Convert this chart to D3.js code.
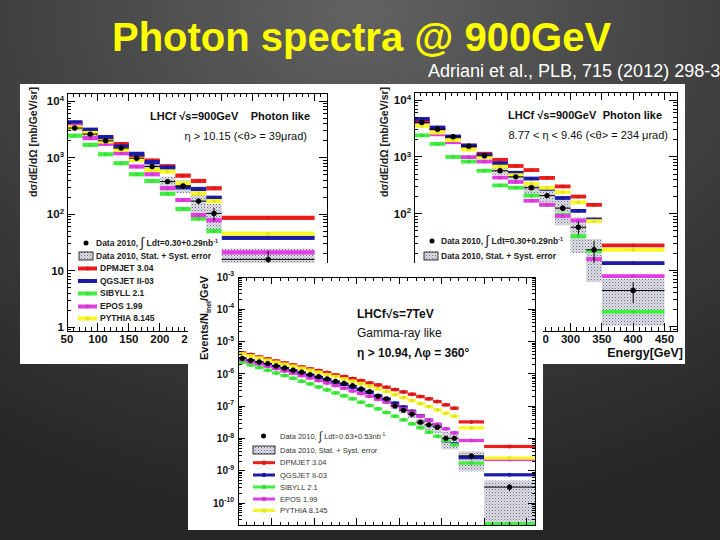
<!DOCTYPE html>
<html><head><meta charset="utf-8">
<script src="https://cdn.jsdelivr.net/npm/d3@7"></script>
<style>body{margin:0;background:#333;}svg{display:block}</style>
</head><body>
<svg id="c" width="720" height="540"></svg>
<script>
// ---------------- DATA ----------------
const modelNames = ["DPMJET 3.04","QGSJET II-03","SIBYLL 2.1","EPOS 1.99","PYTHIA 8.145"];
const modelColors = ["#ea1c1c","#1c1ca8","#3ff03f","#e23ce2","#f8f825"];

// Panel 1 : 900 GeV, eta > 10.15
const p1Edges = [50,75,100,125,150,175,200,225,250,275,300,450];
const p1Data   = [3350,2620,1990,1480,980,697,377,315,170,103,15.8];
const p1SysUp  = [0.10,0.10,0.10,0.12,0.15,0.18,0.22,0.25,0.37,0.48,0.55];
const p1SysDn  = [0.10,0.10,0.10,0.12,0.15,0.18,0.24,0.25,0.40,0.47,0.60];
const p1Stat   = [0.02,0.02,0.03,0.03,0.04,0.05,0.07,0.09,0.12,0.25,0.40];
const p1DPMJET = [3840,2930,2160,1740,1120,891,705,481,387,287,86];
const p1QGSJET = [4230,3130,2320,1580,1170,832,668,300,279,195,38];
const p1SIBYLL = [2450,1690,1150,798,508,387,230,123,83,50,8];
const p1EPOS   = [3690,2220,1760,1200,697,508,287,178,96,78,21];
const p1PYTHIA = [3440,2730,1940,1380,914,607,567,352,233,170,45];

// Panel 2 : 900 GeV, 8.77 < eta < 9.46
const p2Edges = [50,75,100,125,150,175,200,225,250,275,300,325,350,450];
const p2Data   = [4070,3090,2280,1550,1050,571,446,286,208,125,57.5,23,4.4];
const p2SysUp  = [0.10,0.10,0.10,0.10,0.12,0.15,0.20,0.25,0.30,0.40,0.50,0.55,0.60];
const p2SysDn  = [0.10,0.10,0.10,0.10,0.12,0.15,0.20,0.30,0.35,0.50,0.65,0.73,0.76];
const p2Stat   = [0.02,0.02,0.02,0.03,0.03,0.04,0.05,0.06,0.08,0.12,0.25,0.42,0.40];
const p2DPMJET = [4370,3180,2280,1590,1140,890,693,587,427,302,200,143,27.5];
const p2QGSJET = [4680,3310,2280,1590,1090,775,526,416,274,189,112,79,13.4];
const p2SIBYLL = [2410,1700,1000,830,571,315,286,208,143,95,40,22,1.86];
const p2EPOS   = [3650,2510,1820,993,830,433,362,169,143,91,76,15.8,7.9];
const p2PYTHIA = [3550,2690,1980,1350,993,675,477,338,286,239,158,74,23];

// Panel 3 : 7 TeV, eta > 10.94
const p3Edges = [100,200,300,400,500,600,700,800,900,1000,1100,1200,1300,1400,1500,1600,1700,1800,1900,2000,2100,2200,2300,2400,2500,2600,2700,3000,3600];
const p3Data   = [3.05e-6,2.65e-6,2.35e-6,2.09e-6,1.77e-6,1.53e-6,1.30e-6,1.13e-6,9.53e-7,8.27e-7,7.0e-7,5.93e-7,5.14e-7,4.35e-7,3.43e-7,2.84e-7,2.04e-7,1.69e-7,1.02e-7,7.52e-8,5.66e-8,3.20e-8,2.65e-8,2.24e-8,1.02e-8,1.02e-8,2.91e-9,3.13e-10];
const p3SysUp  = [0.08,0.08,0.08,0.08,0.08,0.08,0.09,0.09,0.09,0.10,0.10,0.10,0.11,0.11,0.12,0.13,0.15,0.18,0.20,0.22,0.25,0.30,0.32,0.35,0.60,0.60,0.37,0.60];
const p3SysDn  = [0.08,0.08,0.08,0.08,0.08,0.08,0.09,0.09,0.09,0.10,0.10,0.10,0.11,0.11,0.12,0.13,0.15,0.18,0.20,0.22,0.25,0.30,0.32,0.35,0.55,0.55,0.67,0.95];
const p3Stat   = [0.01,0.01,0.01,0.01,0.01,0.01,0.01,0.01,0.01,0.01,0.02,0.02,0.02,0.02,0.02,0.03,0.03,0.03,0.04,0.05,0.05,0.06,0.07,0.08,0.10,0.10,0.12,0.25];
const p3DPMJET = [4.46e-6,3.96e-6,3.36e-6,2.91e-6,2.52e-6,2.19e-6,1.90e-6,1.64e-6,1.43e-6,1.27e-6,1.10e-6,9.31e-7,8.28e-7,7.18e-7,6.22e-7,5.27e-7,4.57e-7,3.87e-7,3.27e-7,2.77e-7,2.35e-7,1.99e-7,1.69e-7,1.39e-7,1.10e-7,8.67e-8,3.27e-8,5.66e-9];
const p3QGSJET = [2.91e-6,2.52e-6,2.24e-6,1.95e-6,1.69e-6,1.46e-6,1.24e-6,1.05e-6,9.10e-7,7.71e-7,6.52e-7,5.52e-7,4.68e-7,3.87e-7,3.20e-7,2.65e-7,2.10e-7,1.65e-7,1.25e-7,9.5e-8,7.0e-8,5.1e-8,3.7e-8,2.6e-8,8.5e-9,6.8e-9,2.58e-9,7.52e-10];
const p3SIBYLL = [2.30e-6,1.90e-6,1.57e-6,1.30e-6,1.07e-6,8.87e-7,7.34e-7,5.93e-7,4.91e-7,3.96e-7,3.20e-7,2.58e-7,2.09e-7,1.69e-7,1.33e-7,1.05e-7,8.28e-8,6.37e-8,4.91e-8,3.78e-8,2.84e-8,2.14e-8,1.57e-8,1.18e-8,8.67e-9,6.37e-9,1.73e-9,2.3e-11];
const p3EPOS   = [2.77e-6,2.35e-6,2.04e-6,1.73e-6,1.46e-6,1.24e-6,1.05e-6,8.87e-7,7.52e-7,6.22e-7,5.27e-7,4.36e-7,3.61e-7,2.98e-7,2.47e-7,2.04e-7,1.64e-7,1.33e-7,1.05e-7,8.28e-8,6.52e-8,4.91e-8,3.69e-8,2.77e-8,1.99e-8,1.50e-8,8.67e-9,2.24e-9];
const p3PYTHIA = [4.16e-6,3.61e-6,3.13e-6,2.65e-6,2.30e-6,1.99e-6,1.73e-6,1.50e-6,1.30e-6,1.13e-6,9.53e-7,8.28e-7,7.00e-7,5.93e-7,5.02e-7,4.16e-7,3.44e-7,2.84e-7,2.30e-7,1.85e-7,1.50e-7,1.21e-7,9.77e-8,7.71e-8,6.08e-8,4.91e-8,2.14e-8,2.47e-9];

// tick labels that are visible on the slide (the rest is covered by the 7 TeV inset)
const p1YTicks = [1,10,100,1000,10000];
const p2YTicks = [100,1000,10000];
const p3YTicks = [1e-10,1e-9,1e-8,1e-7,1e-6,1e-5,1e-4,1e-3];
const p1XLabels = [50,100,150,200,250];
const p2XLabels = [250,300,350,400,450];

// ---------------- DRAW ----------------
const FONT = "'Liberation Sans', Arial, Helvetica, sans-serif";
const svg = d3.select('#c');
const defs = svg.append('defs');

const bg = defs.append('radialGradient').attr('id','bg').attr('cx','50%').attr('cy','2%').attr('r','95%');
bg.append('stop').attr('offset','0%').attr('stop-color','#626262');
bg.append('stop').attr('offset','45%').attr('stop-color','#444');
bg.append('stop').attr('offset','100%').attr('stop-color','#262626');
svg.append('rect').attr('width',720).attr('height',540).attr('fill','url(#bg)');

const pat = defs.append('pattern').attr('id','hatch').attr('width',3).attr('height',3).attr('patternUnits','userSpaceOnUse');
pat.append('rect').attr('width',3).attr('height',3).attr('fill','#e0e0e8');
pat.append('rect').attr('x',0).attr('y',0).attr('width',1).attr('height',1).attr('fill','#6c6c80');
pat.append('rect').attr('x',1.5).attr('y',1.5).attr('width',1).attr('height',1).attr('fill','#9090a0');

// Title
svg.append('text').attr('x',112).attr('y',51).attr('font-family',FONT).attr('font-weight','bold')
  .attr('font-size',40).attr('fill','#ffff00').text('Photon spectra @ 900GeV');
svg.append('text').attr('x',428).attr('y',77).attr('font-family',FONT)
  .attr('font-size',18).attr('fill','#ffffff').text('Adriani et al., PLB, 715 (2012) 298-302');

function supLabel(sel, v){
  const e = Math.round(Math.log10(v));
  if (e === 0) { sel.text('1'); return; }
  if (e === 1) { sel.text('10'); return; }
  sel.append('tspan').text('10');
  sel.append('tspan').attr('dy',-4.5).attr('font-size','0.68em').text(e < 0 ? '-' + (-e) : e);
}

function frame(g, x, y, o){
  const [x0,x1] = x.range(), [yb,yt] = y.range();
  const tk = g.append('g').attr('stroke','#000').attr('stroke-width',1).attr('shape-rendering','crispEdges');
  tk.append('rect').attr('x',x0).attr('y',yt).attr('width',x1-x0).attr('height',yb-yt).attr('fill','none');
  o.xTicks.forEach(v => {
    const big = o.isMajorX(v), L = big ? o.majL : o.minL;
    const px = x(v);
    tk.append('line').attr('x1',px).attr('x2',px).attr('y1',yb).attr('y2',yb-L);
    tk.append('line').attr('x1',px).attr('x2',px).attr('y1',yt).attr('y2',yt+L);
  });
  const [d0,d1] = y.domain();
  for (let e = Math.floor(Math.log10(d0)); e <= Math.ceil(Math.log10(d1)); e++){
    for (let k = 1; k <= 9; k++){
      const v = k * Math.pow(10,e);
      if (v < d0 || v > d1) continue;
      const L = k === 1 ? o.majL : o.minL, py = y(v);
      tk.append('line').attr('x1',x0).attr('x2',x0+L).attr('y1',py).attr('y2',py);
      tk.append('line').attr('x1',x1).attr('x2',x1-L).attr('y1',py).attr('y2',py);
    }
  }
  o.yLabels.forEach(v => {
    const t = g.append('text').attr('x',x0 - o.yLabOff).attr('y',y(v)+o.yFont*0.36)
      .attr('text-anchor','end').attr('font-family',FONT).attr('font-weight','bold')
      .attr('font-size',o.yFont).attr('fill','#111');
    supLabel(t, v);
  });
  if (o.xLabels) o.xLabels.forEach(v => {
    g.append('text').attr('x',x(v)).attr('y',yb+o.xLabDy).attr('text-anchor','middle')
      .attr('font-family',FONT).attr('font-weight','bold').attr('font-size',o.xFont).attr('fill','#111').text(v);
  });
}

function bins(edges, vals){ return vals.map((v,i)=>({v, a:edges[i], b:edges[i+1], i})); }

function sysBoxes(g, x, y, edges, vals, up, dn){
  g.append('g').selectAll('rect').data(bins(edges,vals)).join('rect')
    .attr('x', d=>x(d.a)).attr('width', d=>x(d.b)-x(d.a))
    .attr('y', d=>y(d.v*(1+up[d.i]))).attr('height', d=>y(d.v*(1-dn[d.i]))-y(d.v*(1+up[d.i])))
    .attr('fill','url(#hatch)');
}
function series(g, x, y, edges, vals, color, h, r){
  const bs = bins(edges, vals);
  const s = g.append('g');
  s.selectAll('rect').data(bs).join('rect')
    .attr('x', d=>x(d.a)).attr('width', d=>x(d.b)-x(d.a))
    .attr('y', d=>y(d.v)-h/2).attr('height', h).attr('fill', color);
  s.selectAll('circle').data(bs).join('circle')
    .attr('cx', d=>x((d.a+d.b)/2)).attr('cy', d=>y(d.v)).attr('r', r)
    .attr('fill', d3.color(color).darker(0.25));
}
function dataPts(g, x, y, edges, vals, stat, r){
  const bs = bins(edges, vals);
  const s = g.append('g').attr('stroke','#000').attr('stroke-width',1);
  s.selectAll('line.h').data(bs).join('line').attr('class','h')
    .attr('x1', d=>x(d.a)).attr('x2', d=>x(d.b)).attr('y1', d=>y(d.v)).attr('y2', d=>y(d.v));
  s.selectAll('line.v').data(bs).join('line').attr('class','v')
    .attr('x1', d=>x((d.a+d.b)/2)).attr('x2', d=>x((d.a+d.b)/2))
    .attr('y1', d=>y(d.v*(1+stat[d.i]))).attr('y2', d=>y(d.v*(1-stat[d.i])));
  g.append('g').selectAll('circle').data(bs).join('circle')
    .attr('cx', d=>x((d.a+d.b)/2)).attr('cy', d=>y(d.v)).attr('r', r).attr('fill','#000');
}
function clip(id, x, y){
  const [x0,x1] = x.range(), [yb,yt] = y.range();
  defs.append('clipPath').attr('id',id).append('rect').attr('x',x0).attr('y',yt).attr('width',x1-x0).attr('height',yb-yt);
}
function spectrumPanel(id, x, y, edges, data, sup, sdn, stat, models, h, r, dr){
  clip(id, x, y);
  const g = svg.append('g').attr('clip-path', `url(#${id})`);
  sysBoxes(g, x, y, edges, data, sup, sdn);
  models.forEach((m,k) => series(g, x, y, edges, m, modelColors[k], h, r));
  dataPts(g, x, y, edges, data, stat, dr);
}

function legend(g, o){
  const t = (yy, xx) => g.append('text').attr('x',xx).attr('y',yy+o.font*0.35).attr('font-family',FONT)
    .attr('font-weight',o.weight).attr('font-size',o.font).attr('fill',o.fill);
  const r0 = o.rows[0];
  g.append('circle').attr('cx',o.mx).attr('cy',r0).attr('r',o.dr).attr('fill','#000');
  const a = t(r0, o.tx);
  a.append('tspan').text('Data 2010, ');
  a.append('tspan').attr('font-size',o.font*1.6).attr('font-weight','normal').attr('dy',1).text('\u222B');
  a.append('tspan').attr('dy',-1).text(' Ldt=' + o.lumi + 'nb');
  a.append('tspan').attr('dy',-3).attr('font-size',o.font*0.65).text('-1');
  if (o.rows.length > 1){
    g.append('rect').attr('x',o.bx0).attr('y',o.rows[1]-o.bh/2).attr('width',o.bx1-o.bx0).attr('height',o.bh)
      .attr('fill','url(#hatch)').attr('stroke','#000').attr('stroke-width',0.8);
    t(o.rows[1], o.tx).text('Data 2010, Stat. + Syst. error');
  }
  modelNames.forEach((n,k) => {
    const yy = o.rows[k+2];
    if (yy === undefined) return;
    g.append('rect').attr('x',o.lx0).attr('y',yy-o.lh/2).attr('width',o.lx1-o.lx0).attr('height',o.lh).attr('fill',modelColors[k]);
    g.append('circle').attr('cx',(o.lx0+o.lx1)/2).attr('cy',yy).attr('r',o.lr).attr('fill',d3.color(modelColors[k]).darker(0.25));
    t(yy, o.tx2).text(n);
  });
}
function txt(g, x, y, s, size, weight, anchor){
  return g.append('text').attr('x',x).attr('y',y).attr('text-anchor',anchor||'start').attr('font-family',FONT)
    .attr('font-weight',weight||'normal').attr('font-size',size).attr('fill','#111').text(s);
}

// ---------- Panels 1 & 2 background ----------
svg.append('rect').attr('x',20).attr('y',84).attr('width',665).attr('height',280).attr('fill','#fff');

// Panel 1
const x1 = d3.scaleLinear().domain([50,470]).range([67,327]);
const y1 = d3.scaleLog().domain([0.85,1.4e4]).range([331,93]);
spectrumPanel('cp1', x1, y1, p1Edges, p1Data, p1SysUp, p1SysDn, p1Stat,
  [p1DPMJET,p1QGSJET,p1SIBYLL,p1EPOS,p1PYTHIA], 4.2, 1.9, 2.7);
const g1 = svg.append('g');
frame(g1, x1, y1, {xTicks:d3.range(50,471,10), isMajorX:v=>v%50===0, majL:8, minL:4,
  yLabels:p1YTicks, yLabOff:3, yFont:11.5, xLabels:p1XLabels, xLabDy:12, xFont:11.5});
g1.append('text').attr('transform','translate(37,142) rotate(-90)').attr('text-anchor','middle')
  .attr('font-family',FONT).attr('font-weight','bold').attr('font-size',10.5).attr('fill','#222')
  .text('d\u03C3/dE/d\u03A9 [mb/GeV/sr]');
txt(g1, 150, 120, 'LHCf \u221As=900GeV', 11, 'bold');
txt(g1, 310, 120, 'Photon like', 11, 'bold', 'end');
txt(g1, 307, 140, '\u03B7 > 10.15 (<\u03B8> = 39\u03BCrad)', 11, 'normal', 'end');
legend(g1, {rows:[243,256,268.5,281,293.5,306.5,318.5], mx:86, dr:2.5, tx:96, tx2:100, font:8.5, weight:'bold', fill:'#222',
  lumi:'0.30+0.29', bx0:79, bx1:93, bh:8, lx0:78, lx1:97, lh:4, lr:1.9});

// Panel 2
const x2 = d3.scaleLinear().domain([50,470]).range([414,677]);
const y2 = d3.scaleLog().domain([0.85,1.4e4]).range([331,92]);
spectrumPanel('cp2', x2, y2, p2Edges, p2Data, p2SysUp, p2SysDn, p2Stat,
  [p2DPMJET,p2QGSJET,p2SIBYLL,p2EPOS,p2PYTHIA], 3.8, 1.9, 2.7);
const g2 = svg.append('g');
frame(g2, x2, y2, {xTicks:d3.range(50,471,10), isMajorX:v=>v%50===0, majL:8, minL:4,
  yLabels:p2YTicks, yLabOff:3, yFont:11.5, xLabels:p2XLabels, xLabDy:12, xFont:11.5});
g2.append('text').attr('transform','translate(388,142) rotate(-90)').attr('text-anchor','middle')
  .attr('font-family',FONT).attr('font-weight','bold').attr('font-size',10.5).attr('fill','#222')
  .text('d\u03C3/dE/d\u03A9 [mb/GeV/sr]');
txt(g2, 508, 119, 'LHCf \u221As=900GeV', 11, 'bold');
txt(g2, 662, 119, 'Photon like', 11, 'bold', 'end');
txt(g2, 668, 139, '8.77 < \u03B7 < 9.46 (<\u03B8> = 234 \u03BCrad)', 11, 'normal', 'end');
txt(g2, 683, 357, 'Energy[GeV]', 12.5, 'bold', 'end');
legend(g2, {rows:[241,256], mx:432, dr:2.5, tx:441, tx2:441, font:8.5, weight:'bold', fill:'#222',
  lumi:'0.30+0.29', bx0:424, bx1:438, bh:8, lx0:0, lx1:0, lh:0, lr:0});

// ---------- Panel 3 (7 TeV inset) ----------
svg.append('rect').attr('x',188).attr('y',263).attr('width',355).attr('height',267).attr('fill','#fff');
const x3 = d3.scaleLinear().domain([100,3600]).range([238,535]);
const y3 = d3.scaleLog().domain([2.1e-11,1e-3]).range([525,277]);
spectrumPanel('cp3', x3, y3, p3Edges, p3Data, p3SysUp, p3SysDn, p3Stat,
  [p3DPMJET,p3QGSJET,p3SIBYLL,p3EPOS,p3PYTHIA], 3.2, 2, 2.6);
const g3 = svg.append('g');
frame(g3, x3, y3, {xTicks:d3.range(100,3601,100), isMajorX:v=>v%500===0, majL:7, minL:3.5,
  yLabels:p3YTicks, yLabOff:4, yFont:10, xLabels:null});
const yl = g3.append('text').attr('transform','translate(208,318) rotate(-90)').attr('text-anchor','middle')
  .attr('font-family',FONT).attr('font-weight','bold').attr('font-size',11).attr('fill','#111');
yl.append('tspan').text('Events/N');
yl.append('tspan').attr('dy',2.5).attr('font-size',7).text('inel');
yl.append('tspan').attr('dy',-2.5).text('/GeV');
txt(g3, 357, 318, 'LHCf\u221As=7TeV', 12, 'bold');
txt(g3, 357, 337, 'Gamma-ray like', 12, 'normal');
txt(g3, 357, 357, '\u03B7 > 10.94, \u039B\u03C6 = 360\u00B0', 12, 'bold');
legend(g3, {rows:[436,450,462.7,475,487,499,510.5], mx:263.5, dr:2.5, tx:280, tx2:280, font:7.5, weight:'normal', fill:'#333',
  lumi:'0.63+0.53', bx0:253, bx1:275, bh:8, lx0:253, lx1:275, lh:3, lr:2.2});
</script>
</body></html>
